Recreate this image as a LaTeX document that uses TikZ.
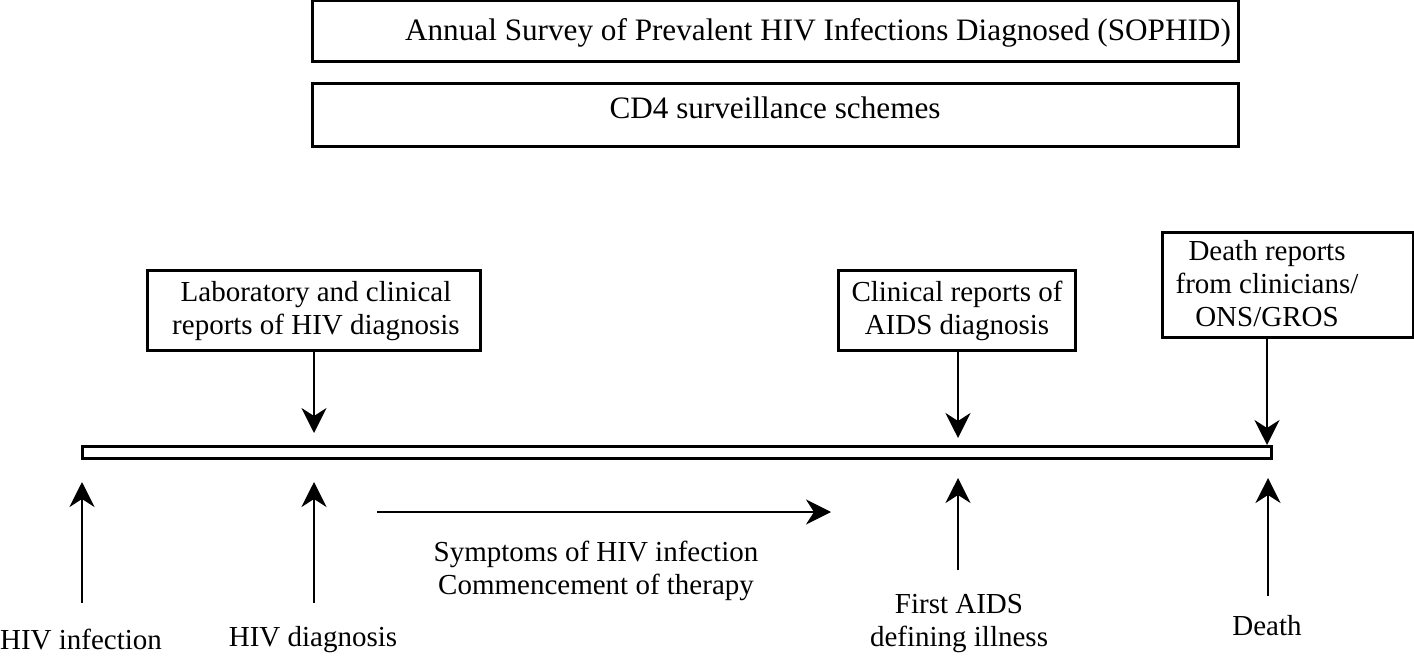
\documentclass[tikz,border=0pt]{standalone}
\usepackage{fontspec}
\setmainfont{Liberation Serif}
\usetikzlibrary{arrows.meta}
\tikzset{
  boxst/.style={draw, line width=1.5pt, inner sep=0pt},
  txt/.style={align=center, inner sep=0pt, font=\fontsize{14.5}{16.5}\selectfont},
  toptxt/.style={align=center, inner sep=0pt, font=\fontsize{15.6}{17}\selectfont},
  arr/.style={line width=1pt, -{Stealth[length=12.5pt,width=12.5pt,inset=4pt]}},
}
\begin{document}
\begin{tikzpicture}[x=0.5pt,y=-0.5pt]
\useasboundingbox (0,0) rectangle (1414,658);
% top boxes
\node (sophid) [boxst, minimum width=463pt, minimum height=30.5pt] at (775,31.5) {};
\node (sophidtxt) [toptxt] at (818,33) {Annual Survey of Prevalent HIV Infections Diagnosed (SOPHID)};
\node (cd4) [boxst, minimum width=463pt, minimum height=31.5pt] at (775,115.5) {};
\node (cd4txt) [toptxt] at (775,108) {CD4 surveillance schemes};
% report boxes
\node (lab) [boxst, minimum width=166.5pt, minimum height=40pt] at (313.5,310) {};
\node (labtxt) [txt] at (316,311) {Laboratory and clinical\\reports of HIV diagnosis};
\node (clin) [boxst, minimum width=118.5pt, minimum height=40pt] at (956.5,310) {};
\node (clintxt) [txt] at (957,311) {Clinical reports of\\AIDS diagnosis};
\node (deathbox) [boxst, minimum width=125.5pt, minimum height=52.5pt] at (1287.5,284.5) {};
\node (deathtxt) [txt] at (1267,284) {Death reports\\from clinicians/\\ONS/GROS};
% timeline bar
\node (bar) [boxst, minimum width=594.5pt, minimum height=6pt] at (676.5,452) {};
% arrow endpoints
\coordinate (labtip) at (314,433);
\coordinate (clintip) at (958,438);
\coordinate (deathtip) at (1267,445);
\coordinate (infb) at (82,603);
\coordinate (inft) at (82,482);
\coordinate (diagb) at (314,603);
\coordinate (diagt) at (314,482);
\coordinate (aidsb) at (958,570);
\coordinate (aidst) at (958,478);
\coordinate (dthb) at (1268,596);
\coordinate (dtht) at (1268,478);
\coordinate (hs) at (377,512);
\coordinate (he) at (831,512);
% down arrows
\draw[arr] (lab.south -| labtip) -- (labtip);
\draw[arr] (clin.south -| clintip) -- (clintip);
\draw[arr] (deathbox.south -| deathtip) -- (deathtip);
% up arrows
\draw[arr] (infb) -- (inft);
\draw[arr] (diagb) -- (diagt);
\draw[arr] (aidsb) -- (aidst);
\draw[arr] (dthb) -- (dtht);
\draw[arr] (hs) -- (he);
% bottom labels
\node (inf) [txt] at (81,640) {HIV infection};
\node (diag) [txt] at (313,640) {HIV diagnosis};
\node (symp) [txt] at (596,571) {Symptoms of HIV infection\\Commencement of therapy};
\node (aids) [txt] at (959,624) {First AIDS\\defining illness};
\node (death) [txt] at (1267,626) {Death};
\end{tikzpicture}
\end{document}
